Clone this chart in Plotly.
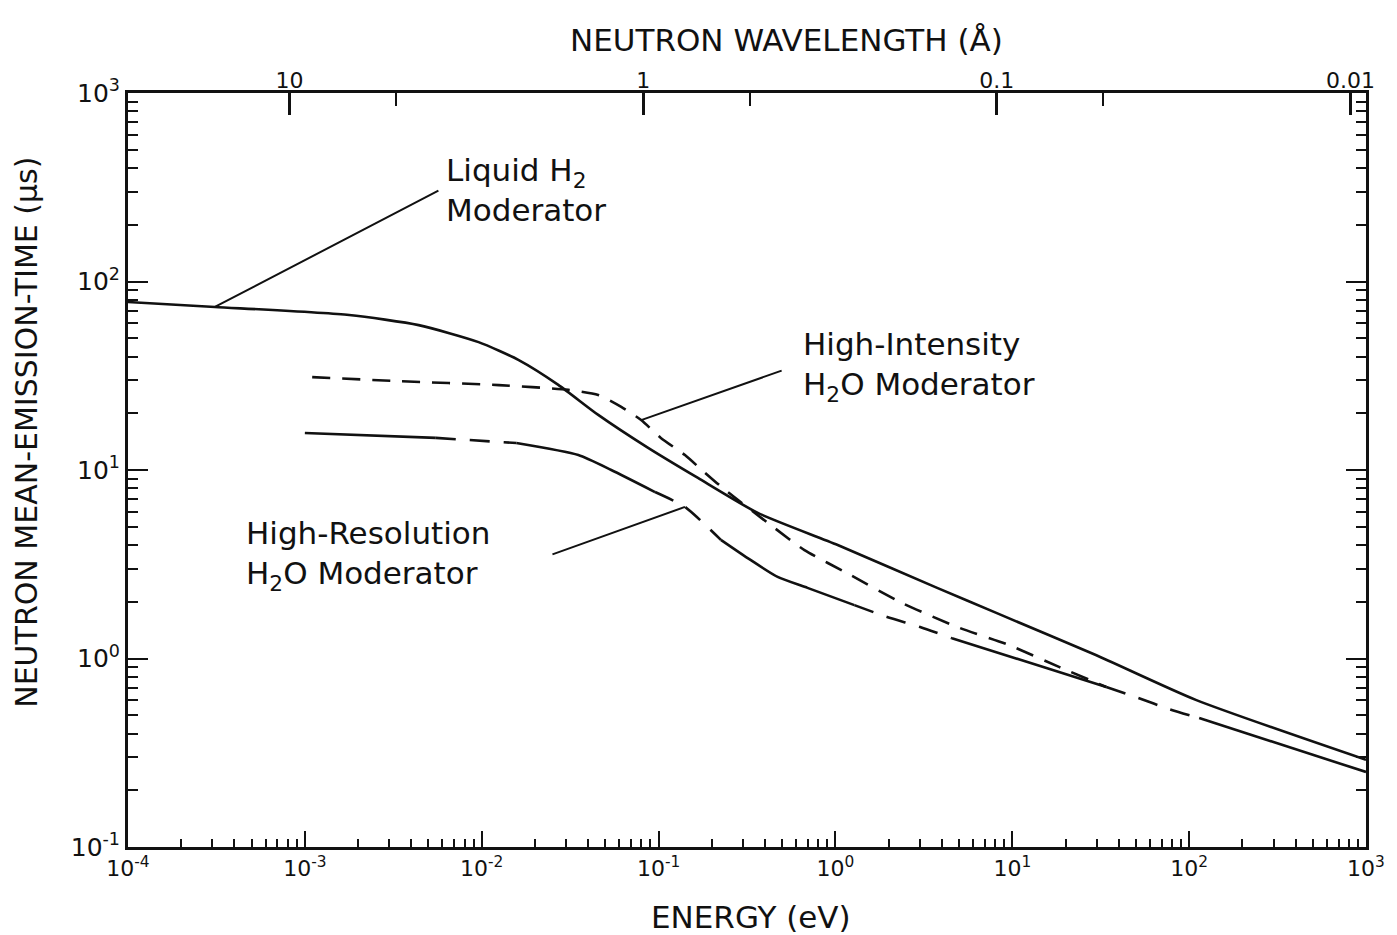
import numpy as np
import plotly.graph_objects as go

# ---------------- data ----------------
liq_E = [1e-4, 3.1e-4, 1.78e-3, 4.4e-3, 9.6e-3, 0.0162, 0.0271, 0.0456, 0.0873,
         0.167, 0.364, 1.03, 3.76, 8.18, 29.9, 109, 1000]
liq_t = [77.8, 73.3, 66.4, 58.7, 47.7, 38.3, 28.3, 19.6, 13.1,
         9.07, 5.92, 4.0, 2.37, 1.74, 1.04, 0.603, 0.29]

hi_E = [1.1e-3, 3.4e-3, 0.0125, 0.0309, 0.0456, 0.0615, 0.0797, 0.103, 0.141,
        0.183, 0.246, 0.453, 0.668, 1.22, 2.38, 5.06, 9.55, 18.5, 34.0]
hi_t = [31.1, 29.6, 28.2, 26.6, 25.0, 21.6, 18.4, 14.8, 12.0,
        9.65, 7.64, 4.92, 3.76, 2.77, 1.97, 1.45, 1.18, 0.90, 0.706]

hr_E = [1.0e-3, 5.5e-3, 0.0157, 0.0352, 0.054, 0.0955, 0.141, 0.225, 0.319,
        0.471, 0.695, 1.28, 1.96, 3.01, 4.56, 15.6, 34.0, 51.6, 77.1, 114, 1000]
hr_t = [15.7, 14.8, 13.9, 12.0, 10.0, 7.64, 6.37, 4.26, 3.41,
        2.71, 2.37, 1.92, 1.66, 1.47, 1.28, 0.891, 0.706, 0.617, 0.539, 0.483, 0.25]
# index spans of the high-resolution curve that are drawn dashed
hr_dash_spans = [(1, 2), (5, 7), (11, 14), (16, 19)]

energy_ticks = [1e-4, 1e-3, 1e-2, 1e-1, 1e0, 1e1, 1e2, 1e3]
energy_ticktext = ["10<sup>-4</sup>", "10<sup>-3</sup>", "10<sup>-2</sup>", "10<sup>-1</sup>",
                   "10<sup>0</sup>", "10<sup>1</sup>", "10<sup>2</sup>", "10<sup>3</sup>"]
time_ticks = [1e-1, 1e0, 1e1, 1e2, 1e3]
time_ticktext = ["10<sup>-1</sup>", "10<sup>0</sup>", "10<sup>1</sup>", "10<sup>2</sup>", "10<sup>3</sup>"]
wl_ticks = [10, 1, 0.1, 0.01]
wl_ticktext = ["10", "1", "0.1", "0.01"]
wl_minor = [5, 0.5, 0.05]

E_PER_INV_A2 = 0.0818  # E(eV) = 0.0818 / lambda(Å)^2

# ---------------- figure ----------------
fig = go.Figure()
BLACK = "#111111"
LW = 2.6
SMOOTH = 0.6

fig.add_trace(go.Scatter(x=liq_E, y=liq_t, mode="lines",
                         line=dict(color=BLACK, width=LW, shape="spline", smoothing=SMOOTH),
                         showlegend=False, name="Liquid H2 Moderator"))
fig.add_trace(go.Scatter(x=hi_E, y=hi_t, mode="lines",
                         line=dict(color=BLACK, width=LW, dash="18px,12px",
                                   shape="spline", smoothing=SMOOTH),
                         showlegend=False, name="High-Intensity H2O Moderator"))

# high-resolution curve: alternate solid / dashed runs
n = len(hr_E)
styles = ["solid"] * (n - 1)
for a, b in hr_dash_spans:
    for i in range(a, b):
        styles[i] = "dash"
i = 0
while i < n - 1:
    j = i
    while j + 1 < n - 1 and styles[j + 1] == styles[i]:
        j += 1
    fig.add_trace(go.Scatter(x=hr_E[i:j + 2], y=hr_t[i:j + 2], mode="lines",
                             line=dict(color=BLACK, width=LW,
                                       dash="solid" if styles[i] == "solid" else "20px,14px",
                                       shape="spline", smoothing=SMOOTH),
                             showlegend=False, name="High-Resolution H2O Moderator"))
    i = j + 1

# invisible trace for the top (wavelength) axis
fig.add_trace(go.Scatter(x=liq_E, y=liq_t, xaxis="x2", mode="lines",
                         line=dict(width=0), opacity=0, hoverinfo="skip", showlegend=False))

minor_E = [k * 10.0 ** p for p in range(-4, 3) for k in range(2, 10)]
minor_t = [k * 10.0 ** p for p in range(-1, 3) for k in range(2, 10)]

FONT = "DejaVu Sans"
fig.update_layout(
    width=1397, height=935,
    margin=dict(l=128, r=25, t=93, b=88),
    paper_bgcolor="white", plot_bgcolor="white",
    font=dict(family=FONT, color=BLACK, size=22),
    xaxis=dict(type="log", range=[-4, 3], showgrid=False, zeroline=False,
               showline=True, linecolor=BLACK, linewidth=3, mirror=True,
               ticks="inside", ticklen=16, tickwidth=2, tickcolor=BLACK,
               tickvals=energy_ticks, ticktext=energy_ticktext,
               tickfont=dict(size=22),
               minor=dict(ticks="inside", ticklen=8, tickwidth=2, tickcolor=BLACK,
                          tickvals=minor_E)),
    xaxis2=dict(type="log", range=[-4, 3], overlaying="x", side="top",
                showgrid=False, zeroline=False, showline=False,
                ticks="inside", ticklen=22, tickwidth=3, tickcolor=BLACK,
                tickvals=[E_PER_INV_A2 / w ** 2 for w in wl_ticks], ticktext=wl_ticktext,
                tickfont=dict(size=22),
                minor=dict(ticks="inside", ticklen=13, tickwidth=2, tickcolor=BLACK,
                           tickvals=[E_PER_INV_A2 / w ** 2 for w in wl_minor])),
    yaxis=dict(type="log", range=[-1, 3], showgrid=False, zeroline=False,
               showline=True, linecolor=BLACK, linewidth=3, mirror="ticks",
               ticks="inside", ticklen=20, tickwidth=2, tickcolor=BLACK,
               tickvals=time_ticks, ticktext=time_ticktext,
               tickfont=dict(size=25),
               minor=dict(ticks="inside", ticklen=10, tickwidth=2, tickcolor=BLACK,
                          tickvals=minor_t)),
)

ann = []
# axis titles
ann.append(dict(text="ENERGY (eV)", xref="paper", yref="paper", x=0.503, y=-0.093,
                showarrow=False, font=dict(size=31), xanchor="center", yanchor="middle"))
ann.append(dict(text="NEUTRON WAVELENGTH (Å)", xref="paper", yref="paper", x=0.532, y=1.070,
                showarrow=False, font=dict(size=31), xanchor="center", yanchor="middle"))
ann.append(dict(text="NEUTRON MEAN-EMISSION-TIME (μs)", xref="paper", yref="paper",
                x=-0.082, y=0.55, textangle=-90, showarrow=False, font=dict(size=30),
                xanchor="center", yanchor="middle"))
# curve labels
ann.append(dict(text="Liquid H<sub>2</sub><br>Moderator", xref="paper", yref="paper",
                x=0.255, y=0.871, showarrow=False, font=dict(size=31), align="left",
                xanchor="left", yanchor="middle"))
ann.append(dict(text="High-Intensity<br>H<sub>2</sub>O Moderator", xref="paper", yref="paper",
                x=0.544, y=0.637, showarrow=False, font=dict(size=31), align="left",
                xanchor="left", yanchor="middle"))
ann.append(dict(text="High-Resolution<br>H<sub>2</sub>O Moderator", xref="paper", yref="paper",
                x=0.094, y=0.387, showarrow=False, font=dict(size=31), align="left",
                xanchor="left", yanchor="middle"))
# leader lines (tip on a curve point, tail offset in pixels)
for (E, t, ax, ay) in [(liq_E[1], liq_t[1], 225, -117),
                       (hi_E[6], hi_t[6], 142, -50),
                       (hr_E[6], hr_t[6], -134, 48)]:
    ann.append(dict(text="", x=np.log10(E), y=np.log10(t), xref="x", yref="y",
                    showarrow=True, arrowhead=0, arrowwidth=2, arrowcolor=BLACK,
                    ax=ax, ay=ay, axref="pixel", ayref="pixel", standoff=0))
fig.update_layout(annotations=ann)

fig.write_html("out.html")
